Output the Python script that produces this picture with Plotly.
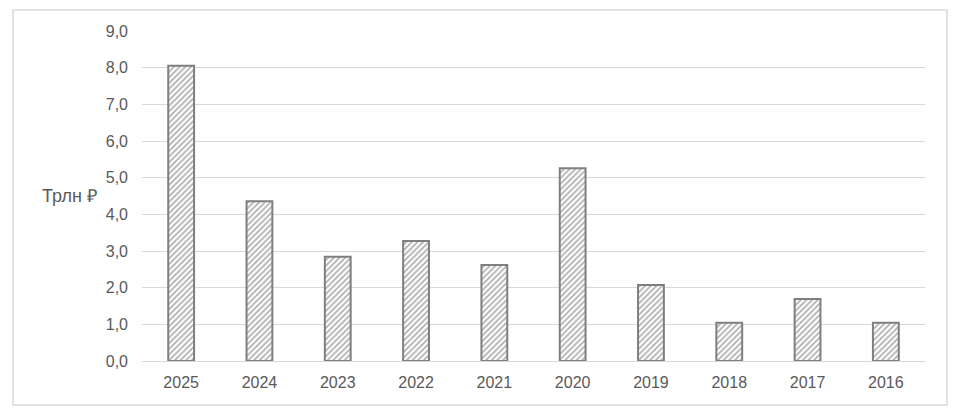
import plotly.graph_objects as go

years = ["2025", "2024", "2023", "2022", "2021", "2020", "2019", "2018", "2017", "2016"]
values = [8.05, 4.36, 2.84, 3.27, 2.62, 5.26, 2.07, 1.04, 1.69, 1.04]
y_ticks = [0, 1, 2, 3, 4, 5, 6, 7, 8, 9]
y_title = "Трлн ₽"

# page body has an 8px margin; figure is placed at (8, 8)
OFF = 8
W, H = 940, 400
L, T = 142 - OFF, 31 - OFF
R = W - (925 - OFF)
B = H - (361 - OFF)
pw, ph = W - L - R, H - T - B

def px_x(p):
    return (p - OFF - L) / pw

def px_y(p):
    return (H - B - (p - OFF)) / ph

fig = go.Figure(go.Bar(
    x=years, y=values,
    marker=dict(
        color="white",
        line=dict(color="#7f7f7f", width=2),
        pattern=dict(shape="/", fgcolor="#5f5f5f", bgcolor="white", size=4, solidity=0.45),
    ),
    width=0.33,
))

fig.update_layout(
    width=W, height=H,
    margin=dict(l=L, r=R, t=T, b=B),
    paper_bgcolor="white", plot_bgcolor="white",
    separators=", ",
    showlegend=False,
    font=dict(family="Liberation Sans, Arial, sans-serif", size=16, color="#595959"),
    xaxis=dict(showgrid=False, showline=False, ticks="", ticklabelstandoff=10,
               tickfont=dict(size=16, color="#595959")),
    yaxis=dict(
        range=[0, 9], tickvals=y_ticks, tickformat=".1f",
        showgrid=True, gridcolor="#d9d9d9", gridwidth=1.3,
        zeroline=True, zerolinecolor="#d9d9d9", zerolinewidth=1.3,
        showline=False, ticks="", ticklabelstandoff=13,
        tickfont=dict(size=16, color="#595959"),
    ),
    annotations=[dict(
        text=y_title, xref="paper", yref="paper",
        x=px_x(99), y=px_y(196), xanchor="right", yanchor="middle",
        showarrow=False, font=dict(size=18, color="#595959"),
    )],
    shapes=[dict(
        type="rect", xref="paper", yref="paper",
        x0=px_x(13), x1=px_x(947), y0=px_y(405), y1=px_y(10),
        line=dict(color="#d9d9d9", width=1.5), fillcolor="rgba(0,0,0,0)", layer="below",
    )],
)

fig.write_html("out.html")
